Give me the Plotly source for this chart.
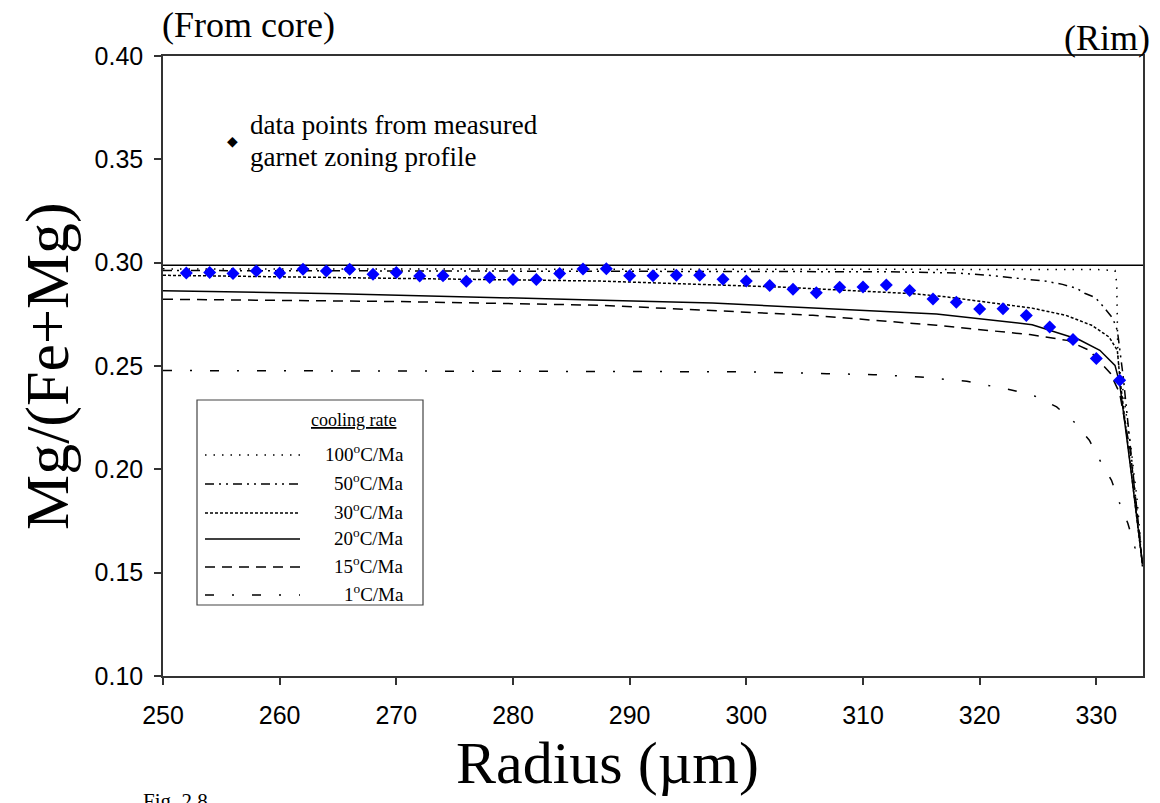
import plotly.graph_objects as go

# ---------------- data ----------------
radius_data = [252, 254, 256, 258, 260, 262, 264, 266, 268, 270, 272, 274, 276, 278,
               280, 282, 284, 286, 288, 290, 292, 294, 296, 298, 300, 302, 304, 306,
               308, 310, 312, 314, 316, 318, 320, 322, 324, 326, 328, 330, 332]
mg_data = [0.2950, 0.2953, 0.2947, 0.2960, 0.2950, 0.2968, 0.2960, 0.2968, 0.2944,
           0.2952, 0.2935, 0.2937, 0.2910, 0.2928, 0.2918, 0.2918, 0.2947, 0.2969,
           0.2971, 0.2937, 0.2937, 0.2939, 0.2939, 0.2920, 0.2911, 0.2889, 0.2871,
           0.2855, 0.2881, 0.2882, 0.2892, 0.2865, 0.2824, 0.2808, 0.2776, 0.2777,
           0.2744, 0.2689, 0.2628, 0.2536, 0.2431]

r_init = [250, 334]
m_init = [0.2988, 0.2988]

r100 = [250, 300, 330, 331.6, 331.75, 331.85, 332.2, 332.6, 333.0, 333.5, 333.95]
m100 = [0.2970, 0.2969, 0.2967, 0.2962, 0.2900, 0.2530, 0.2416, 0.2251, 0.2091, 0.1850, 0.1540]

r50 = [250, 300, 312, 318, 321, 325.7, 327.1, 328.3, 329.0, 329.9, 330.5, 331.4, 331.8,
       332.3, 333.0, 333.95]
m50 = [0.2962, 0.2960, 0.2956, 0.2950, 0.2938, 0.2910, 0.2895, 0.2876, 0.2852, 0.2832,
       0.2794, 0.2731, 0.2673, 0.2450, 0.2050, 0.1540]

r30 = [250, 287.5, 302.9, 314.3, 317.2, 321.7, 324.5, 327.4, 329.6, 331.1, 331.8, 332.0,
       333.0, 333.95]
m30 = [0.2939, 0.2911, 0.2882, 0.2850, 0.2834, 0.2802, 0.2780, 0.2745, 0.2697, 0.2640,
       0.2576, 0.2450, 0.1990, 0.1540]

r20 = [250, 265, 286, 297.1, 316.3, 324.5, 328.5, 330.3, 331.6, 332.0, 333.0, 333.95]
m20 = [0.2864, 0.2850, 0.2821, 0.2805, 0.2752, 0.2700, 0.2628, 0.2576, 0.2503, 0.2416,
       0.1980, 0.1546]

r15 = [250, 270, 287.5, 305.7, 316.3, 321.7, 324.3, 327.5, 329.4, 331.2, 332.0, 332.9,
       333.7, 333.95]
m15 = [0.2823, 0.2812, 0.2794, 0.2745, 0.2697, 0.2668, 0.2652, 0.2624, 0.2576, 0.2465,
       0.2368, 0.2092, 0.1690, 0.1530]

r1 = [250, 300, 306.9, 310.9, 314.9, 318.9, 322.8, 324.7, 326.6, 328.1, 329.4, 330.3,
      331.3, 332.0, 332.7, 333.3, 333.95]
m1 = [0.2478, 0.2472, 0.2463, 0.2458, 0.2447, 0.2426, 0.2383, 0.2355, 0.2302, 0.2229,
      0.2141, 0.2044, 0.1947, 0.1836, 0.1739, 0.1623, 0.1540]

legend_labels = ["100<sup>o</sup>C/Ma", "50<sup>o</sup>C/Ma", "30<sup>o</sup>C/Ma",
                 "20<sup>o</sup>C/Ma", "15<sup>o</sup>C/Ma", "1<sup>o</sup>C/Ma"]
y_ticks = [0.10, 0.15, 0.20, 0.25, 0.30, 0.35, 0.40]
x_ticks = [250, 260, 270, 280, 290, 300, 310, 320, 330]

# ---------------- styles ----------------
dash_100 = "1.5px,7px"
dash_50 = "9px,5px,2px,5px,2px,5px"
dash_30 = "3px,2px"
dash_20 = "solid"
dash_15 = "10px,7px"
dash_1 = "9px,18px,2px,18px"
styles = [dash_100, dash_50, dash_30, dash_20, dash_15, dash_1]

W, H = 1160, 803
L, R, T, B = 163, 17, 56, 127
PW, PH = W - L - R, H - T - B


def px(x):
    return (x - L) / PW


def py(y):
    return (H - B - y) / PH


SERIF = "Liberation Serif, Times New Roman, serif"
SANS = "Liberation Sans, Arial, sans-serif"

fig = go.Figure()

fig.add_trace(go.Scatter(x=r_init, y=m_init, mode="lines",
                         line=dict(color="black", width=1.5), showlegend=False))
curves = [(r100, m100), (r50, m50), (r30, m30), (r20, m20), (r15, m15), (r1, m1)]
for (xs, ys), d in zip(curves, styles):
    fig.add_trace(go.Scatter(x=xs, y=ys, mode="lines",
                             line=dict(color="black", width=1.5, dash=d),
                             showlegend=False))

fig.add_trace(go.Scatter(x=radius_data, y=mg_data, mode="markers",
                         marker=dict(symbol="diamond", size=10, color="#0000FF",
                                     line=dict(width=0)),
                         showlegend=False))

shapes = []
annotations = []

# legend box
shapes.append(dict(type="rect", xref="paper", yref="paper",
                   x0=px(197), x1=px(423), y0=py(605), y1=py(400),
                   line=dict(color="#444444", width=1.2), fillcolor="white", layer="above"))
row_y = [455, 484, 513, 539, 567, 595]
for yy, d, lab in zip(row_y, styles, legend_labels):
    shapes.append(dict(type="line", xref="paper", yref="paper",
                       x0=px(205), x1=px(300), y0=py(yy), y1=py(yy),
                       line=dict(color="black", width=1.5, dash=d), layer="above"))
    annotations.append(dict(text=lab, xref="paper", yref="paper", x=px(406), y=py(yy - 2),
                            xanchor="right", yanchor="middle", showarrow=False,
                            font=dict(family=SERIF, size=19, color="black")))
annotations.append(dict(text="<u>cooling rate</u>", xref="paper", yref="paper",
                        x=px(353), y=py(420), xanchor="center", yanchor="middle",
                        showarrow=False, font=dict(family=SERIF, size=18, color="black")))

# data points legend
annotations.append(dict(text="◆", xref="paper", yref="paper", x=px(232), y=py(141),
                        xanchor="center", yanchor="middle", showarrow=False,
                        font=dict(family="DejaVu Sans", size=14, color="black")))
annotations.append(dict(text="data points from measured", xref="paper", yref="paper",
                        x=px(248), y=py(125), xanchor="left", yanchor="middle",
                        showarrow=False, font=dict(family=SERIF, size=27, color="black")))
annotations.append(dict(text="garnet zoning profile", xref="paper", yref="paper",
                        x=px(248), y=py(157), xanchor="left", yanchor="middle",
                        showarrow=False, font=dict(family=SERIF, size=27, color="black")))

# titles
annotations.append(dict(text="(From core)", xref="paper", yref="paper", x=px(160), y=py(25),
                        xanchor="left", yanchor="middle", showarrow=False,
                        font=dict(family=SERIF, size=36, color="black")))
annotations.append(dict(text="(Rim)", xref="paper", yref="paper", x=px(1152), y=py(38),
                        xanchor="right", yanchor="middle", showarrow=False,
                        font=dict(family=SERIF, size=36, color="black")))
annotations.append(dict(text="Mg/(Fe+Mg)", xref="paper", yref="paper", x=px(47), y=py(366),
                        xanchor="center", yanchor="middle", textangle=-90, showarrow=False,
                        font=dict(family=SERIF, size=62, color="black")))
annotations.append(dict(text="Radius (µm)", xref="paper", yref="paper", x=px(607), y=py(763),
                        xanchor="center", yanchor="middle", showarrow=False,
                        font=dict(family=SERIF, size=60, color="black")))
annotations.append(dict(text="Fig. 2.8", xref="paper", yref="paper", x=px(141), y=py(801),
                        xanchor="left", yanchor="middle", showarrow=False,
                        font=dict(family=SERIF, size=21, color="black")))

fig.update_layout(
    width=W, height=H,
    margin=dict(l=L, r=R, t=T, b=B),
    paper_bgcolor="white", plot_bgcolor="white",
    shapes=shapes, annotations=annotations,
    showlegend=False,
)
fig.update_xaxes(range=[250, 334], tickvals=x_ticks, ticks="outside", ticklen=7,
                 tickcolor="#333333", tickwidth=1.5, ticklabelstandoff=9,
                 showline=True, linecolor="#333333", linewidth=1.5, mirror=True,
                 showgrid=False, zeroline=False,
                 tickfont=dict(family=SANS, size=25, color="black"))
fig.update_yaxes(range=[0.10, 0.40], tickvals=y_ticks, tickformat=".2f", ticks="outside",
                 ticklen=7, tickcolor="#333333", tickwidth=1.5, ticklabelstandoff=6,
                 showline=True, linecolor="#333333", linewidth=1.5, mirror=True,
                 showgrid=False, zeroline=False,
                 tickfont=dict(family=SANS, size=25, color="black"))

fig.write_html("out.html")
